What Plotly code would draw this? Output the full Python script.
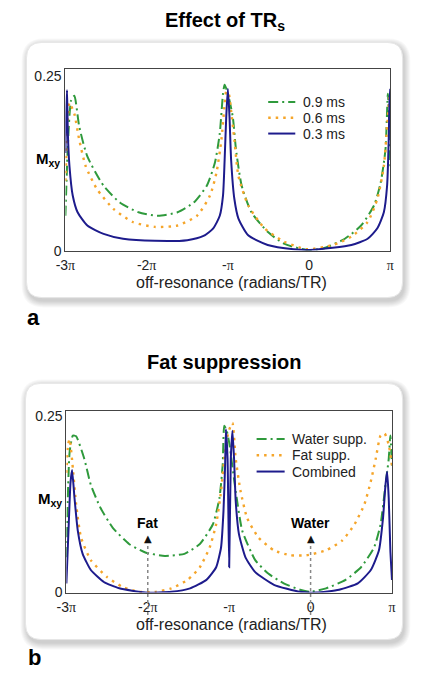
import plotly.graph_objects as go

W, H = 425, 685

# ---------------- data (x in units of pi) ----------------
tick_vals = [-3, -2, -1, 0, 1]
tick_labels = ["-3π", "-2π", "-π", "0", "π"]

# Panel a: Effect of TRs
a_names = ["0.9 ms", "0.6 ms", "0.3 ms"]
a09_x = [-3.0, -2.97, -2.93, -2.89, -2.83, -2.73, -2.53, -2.33, -2.10, -1.86, -1.62, -1.42, -1.26, -1.16,
         -1.10, -1.06, -1.04, -1.00, -0.94, -0.90, -0.83, -0.71, -0.51, -0.31, -0.03, 0.17, 0.44, 0.64,
         0.80, 0.88, 0.94, 0.97, 1.0]
a09_y = [0.05, 0.15, 0.215, 0.222, 0.178, 0.135, 0.093, 0.069, 0.055, 0.050, 0.055, 0.069, 0.093, 0.126,
         0.168, 0.225, 0.238, 0.225, 0.192, 0.145, 0.093, 0.055, 0.027, 0.010, 0.001, 0.003, 0.017, 0.036,
         0.065, 0.097, 0.145, 0.225, 0.12]
a06_x = [-3.0, -2.97, -2.95, -2.89, -2.83, -2.75, -2.61, -2.41, -2.17, -1.90, -1.62, -1.38, -1.22, -1.14,
         -1.08, -1.04, -1.02, -0.99, -0.96, -0.92, -0.87, -0.75, -0.55, -0.31, -0.03, 0.29, 0.52, 0.72,
         0.84, 0.92, 0.96, 0.99, 1.0]
a06_y = [0.10, 0.19, 0.212, 0.196, 0.159, 0.121, 0.088, 0.060, 0.041, 0.034, 0.036, 0.050, 0.079, 0.112,
         0.159, 0.210, 0.228, 0.225, 0.200, 0.159, 0.107, 0.065, 0.032, 0.013, 0.002, 0.008, 0.020, 0.041,
         0.074, 0.121, 0.178, 0.220, 0.225]
a03_x = [-3.0, -2.99, -2.98, -2.97, -2.95, -2.91, -2.85, -2.73, -2.53, -2.29, -1.90, -1.50, -1.30, -1.18,
         -1.10, -1.06, -1.04, -1.02, -1.00, -0.98, -0.96, -0.92, -0.87, -0.75, -0.51, -0.19, 0.01, 0.29,
         0.52, 0.72, 0.84, 0.92, 0.96, 0.98, 0.99, 1.0]
a03_y = [0.14, 0.20, 0.230, 0.168, 0.121, 0.079, 0.055, 0.036, 0.024, 0.017, 0.014, 0.015, 0.021, 0.032,
         0.050, 0.079, 0.130, 0.192, 0.232, 0.192, 0.130, 0.074, 0.046, 0.022, 0.008, 0.002, 0.001, 0.004,
         0.008, 0.017, 0.032, 0.055, 0.093, 0.159, 0.215, 0.232]

# Panel b: Fat suppression
b_names = ["Water supp.", "Fat supp.", "Combined"]
bw_x = [-3.0, -2.96, -2.92, -2.88, -2.78, -2.70, -2.58, -2.43, -2.23, -2.03, -1.79, -1.55, -1.36, -1.20,
        -1.12, -1.08, -1.06, -1.03, -1.00, -0.92, -0.84, -0.68, -0.52, -0.33, -0.13, -0.01, 0.19, 0.43,
        0.62, 0.78, 0.86, 0.92, 0.96, 0.98, 1.0]
bw_y = [0.05, 0.20, 0.223, 0.222, 0.190, 0.153, 0.120, 0.092, 0.069, 0.057, 0.052, 0.055, 0.069, 0.097,
        0.134, 0.181, 0.237, 0.230, 0.213, 0.144, 0.088, 0.046, 0.027, 0.013, 0.004, 0.001, 0.006, 0.018,
        0.036, 0.064, 0.097, 0.153, 0.190, 0.223, 0.18]
bf_x = [-3.0, -2.98, -2.96, -2.92, -2.88, -2.82, -2.70, -2.50, -2.31, -2.11, -1.91, -1.71, -1.51, -1.36,
        -1.24, -1.16, -1.10, -1.06, -1.01, -0.96, -0.92, -0.86, -0.78, -0.64, -0.45, -0.25, -0.05, 0.19,
        0.39, 0.54, 0.66, 0.74, 0.80, 0.86, 0.91, 0.96, 1.0]
bf_y = [0.17, 0.21, 0.218, 0.176, 0.125, 0.078, 0.046, 0.022, 0.008, 0.001, 0.001, 0.006, 0.018, 0.036,
        0.064, 0.097, 0.144, 0.190, 0.228, 0.241, 0.190, 0.144, 0.106, 0.078, 0.060, 0.053, 0.053, 0.060,
        0.074, 0.097, 0.125, 0.158, 0.190, 0.223, 0.226, 0.21, 0.18]
bc_x = [-3.0, -2.97, -2.95, -2.93, -2.90, -2.86, -2.80, -2.70, -2.54, -2.35, -2.03, -1.71, -1.48, -1.28,
        -1.16, -1.10, -1.07, -1.05, -1.04, -1.02, -1.00, -0.98, -0.96, -0.94, -0.92, -0.88, -0.80, -0.68,
        -0.45, -0.13, 0.07, 0.35, 0.58, 0.74, 0.84, 0.89, 0.92, 0.94, 0.96, 0.98, 1.0]
bc_y = [0.013, 0.10, 0.155, 0.174, 0.134, 0.088, 0.055, 0.032, 0.015, 0.006, 0.0, 0.001, 0.006, 0.018,
        0.036, 0.064, 0.116, 0.181, 0.232, 0.190, 0.036, 0.190, 0.230, 0.190, 0.130, 0.083, 0.050, 0.029,
        0.011, 0.001, 0.0, 0.004, 0.013, 0.032, 0.060, 0.106, 0.153, 0.172, 0.134, 0.060, 0.018]

markers_b = [("Fat", -2), ("Water", 0)]

# ---------------- styles ----------------
GREEN = "#2f9a3c"
ORANGE = "#f5a52a"
NAVY = "#1d1b8c"
FONT = "Liberation Sans, Arial, sans-serif"
SERIF = "Liberation Serif, Times New Roman, serif"

def px_x(p):
    return p / W

def px_y(p):
    return 1 - p / H

fig = go.Figure()

styles = [
    dict(color=GREEN, width=2, dash="10px,4px,2px,4px"),
    dict(color=ORANGE, width=2.4, dash="2.5px,5px"),
    dict(color=NAVY, width=2),
]

for (xs, ys), name, st in zip([(a09_x, a09_y), (a06_x, a06_y), (a03_x, a03_y)], a_names, styles):
    fig.add_trace(go.Scatter(x=xs, y=ys, mode="lines", name=name, showlegend=False, hoverinfo="skip",
                             line=dict(shape="spline", smoothing=0.6, **st), xaxis="x", yaxis="y"))
for (xs, ys), name, st in zip([(bw_x, bw_y), (bf_x, bf_y), (bc_x, bc_y)], b_names, styles):
    fig.add_trace(go.Scatter(x=xs, y=ys, mode="lines", name=name, showlegend=False, hoverinfo="skip",
                             line=dict(shape="spline", smoothing=0.5, **st), xaxis="x2", yaxis="y2"))

ticktext = [t.replace("π", "<span style='font-family:%s'>π</span>" % SERIF) for t in tick_labels]

axis_common = dict(showline=True, linecolor="#444", linewidth=1, mirror=True, showgrid=False,
                   zeroline=False, ticks="", tickfont=dict(family=FONT, size=14, color="#222"))
xaxis_extra = dict(ticklabelstandoff=2)

fig.update_layout(
    width=W, height=H, margin=dict(l=0, r=0, t=0, b=0),
    paper_bgcolor="white", plot_bgcolor="rgba(0,0,0,0)", showlegend=False,
    xaxis=dict(domain=[px_x(57.3), px_x(393.3)], range=[-3, 1], tickvals=tick_vals, ticktext=ticktext,
               anchor="y", **axis_common, **xaxis_extra),
    yaxis=dict(domain=[px_y(252.3), px_y(68.3)], range=[0, 0.26], tickvals=[0, 0.25], ticktext=["0", "0.25"],
               anchor="x", **axis_common),
    xaxis2=dict(domain=[px_x(58.3), px_x(395)], range=[-3, 1], tickvals=tick_vals, ticktext=ticktext,
                anchor="y2", **axis_common, **xaxis_extra),
    yaxis2=dict(domain=[px_y(599.3), px_y(415)], range=[0, 0.258], tickvals=[0, 0.25], ticktext=["0", "0.25"],
                anchor="x2", **axis_common),
)

# ---------------- rounded panels with soft shadow ----------------
def rrect(x0, y0, x1, y1, r):
    X0, X1 = px_x(x0), px_x(x1)
    Y0, Y1 = px_y(y0), px_y(y1)
    rx, ry = r / W, r / H
    return (f"M {X0+rx},{Y0} L {X1-rx},{Y0} Q {X1},{Y0} {X1},{Y0-ry} "
            f"L {X1},{Y1+ry} Q {X1},{Y1} {X1-rx},{Y1} L {X0+rx},{Y1} Q {X0},{Y1} {X0},{Y1+ry} "
            f"L {X0},{Y0-ry} Q {X0},{Y0} {X0+rx},{Y0} Z")

shapes = []
for (x0, y0, x1, y1) in [(17, 41, 406, 300), (16, 387, 406, 647)]:
    for i in range(7, 0, -1):
        shapes.append(dict(type="path", xref="paper", yref="paper", layer="below",
                           path=rrect(x0 - i + 2, y0 - i + 3, x1 + i + 1, y1 + i + 3, 16 + i),
                           fillcolor="rgba(0,0,0,0.028)", line=dict(width=0)))
    shapes.append(dict(type="path", xref="paper", yref="paper", layer="below",
                       path=rrect(x0, y0, x1, y1, 16), fillcolor="white",
                       line=dict(color="#e6e6e6", width=1)))

# dashed guide lines for Fat / Water
for label, xv in markers_b:
    shapes.append(dict(type="line", xref="x2", yref="paper", x0=xv, x1=xv, y0=px_y(622), y1=px_y(546),
                       line=dict(color="#888", width=1.5, dash="3px,3px"), layer="above"))

ann = []

def txt(text, x, y, size, color="#222", xref="paper", xanchor="center", yanchor="middle", family=FONT):
    ann.append(dict(text=text, x=x, y=y, xref=xref, yref="paper", showarrow=False,
                    xanchor=xanchor, yanchor=yanchor, font=dict(family=family, size=size, color=color)))

# manual legends (line samples + labels)
leg_a = dict(x0=267, x1=295, tx=301, rows=[101.5, 117.5, 133.5], names=a_names)
leg_b = dict(x0=255, x1=284, tx=290, rows=[443.5, 460, 476.5], names=b_names)
for leg in (leg_a, leg_b):
    for yy, name, st in zip(leg["rows"], leg["names"], styles):
        shapes.append(dict(type="line", xref="paper", yref="paper", x0=px_x(leg["x0"]), x1=px_x(leg["x1"]),
                           y0=px_y(yy), y1=px_y(yy), line=st, layer="above"))
        txt(name, px_x(leg["tx"]), px_y(yy), 14, xanchor="left")

fig.update_layout(shapes=shapes)

txt("<b>Effect of TR<sub>s</sub></b>", px_x(222), px_y(20), 20, color="black")
txt("<b>Fat suppression</b>", px_x(221), px_y(365), 20, color="black")
for yy in (285, 632):
    txt("off-resonance (radians/TR)", px_x(229), px_y(yy), 16)
for xx, yy in ((39, 160), (41, 505)):
    txt("<b>M<sub>xy</sub></b>", px_x(xx), px_y(yy), 15, color="black")
txt("<b>a</b>", px_x(24), px_y(320), 22, color="black")
txt("<b>b</b>", px_x(25), px_y(665), 22, color="black")
for label, xv in markers_b:
    txt("<b>%s</b>" % label, xv, px_y(529), 14, color="black", xref="x2")
    txt("▲", xv, px_y(544), 10, color="#111", xref="x2", family="DejaVu Sans")
fig.update_layout(annotations=ann)

fig.write_html("out.html", post_script="document.body.style.margin='0';",
               config={"displayModeBar": False})
